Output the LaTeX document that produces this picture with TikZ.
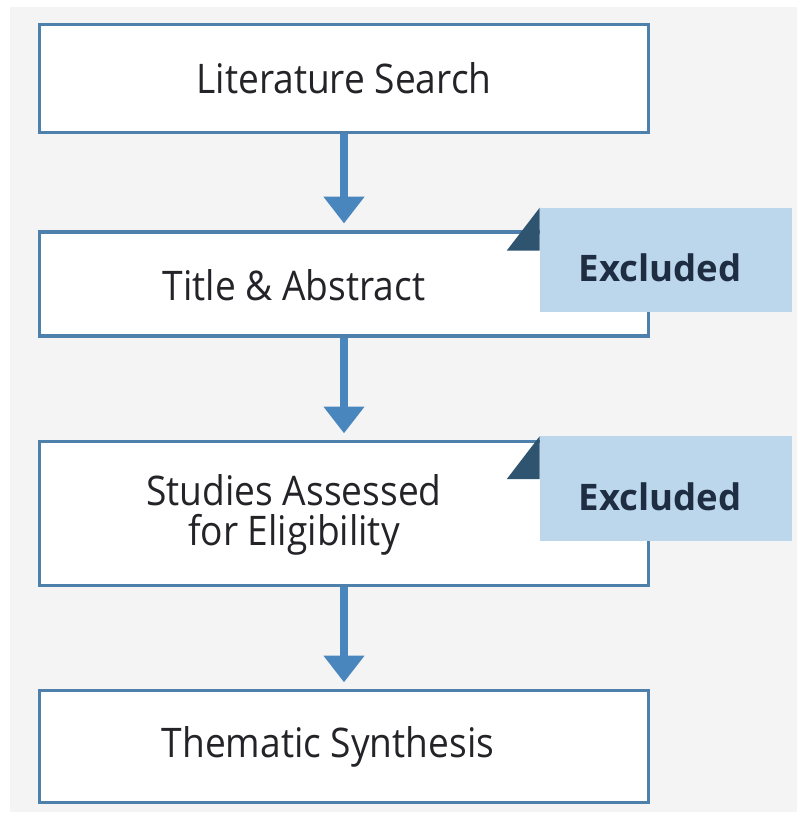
\documentclass[tikz,border=0pt]{standalone}
\usepackage{fontspec}
\setmainfont{Open Sans}[FakeStretch=0.91]
\newfontfamily\exfont{Open Sans}
\usetikzlibrary{arrows.meta,positioning,calc}
\definecolor{steel}{RGB}{78,128,172}
\definecolor{flowblue}{RGB}{74,134,190}
\definecolor{paleblue}{RGB}{188,214,235}
\definecolor{slate}{RGB}{46,84,112}
\definecolor{ink}{RGB}{35,35,40}
\definecolor{navyink}{RGB}{30,45,65}
\definecolor{paper}{RGB}{244,244,244}
\tikzset{
  >={Triangle[width=28pt,length=19pt]},
  stage/.style={draw=steel,fill=white,line width=2.2pt,minimum width=15.2cm,
    minimum height=#1,inner sep=0pt,text=ink,align=center,
    font=\fontsize{29}{28.5}\selectfont},
  stage/.default=2.65cm,
  stagetext/.style={text=ink,align=center,inner sep=0pt,
    font=\fontsize{29}{28.5}\selectfont},
  excl/.style={fill=paleblue,minimum width=6.3cm,minimum height=2.6cm,inner sep=0pt},
  excltext/.style={text=navyink,inner sep=0pt,font=\exfont\fontsize{26}{28}\selectfont\bfseries},
  flow/.style={->,line width=5pt,draw=flowblue,shorten >=5pt},
}
\begin{document}
\begin{tikzpicture}[x=0.025cm,y=-0.025cm]
  \useasboundingbox (0,0) rectangle (800,817);
  \fill[paper] (10,7) rectangle (797,812);

  % stages
  \node[stage=2.68cm] (search) at (344,78.5) {Literature Search};
  \node[stage=2.6cm] (title) at (344,284) {};
  \node[stage=3.58cm] (elig) at (344,513.5) {};
  \node[stage=2.78cm] (synth) at (344,746.5) {\hspace*{-0.8cm}Thematic Synthesis};
  \node[stagetext] (titletxt) at (294,285) {Title \& Abstract};
  \node[stagetext] (eligtxt) at (294,515) {Studies Assessed\\for Eligibility};

  % exclusion tabs
  \node[excl] (ex1) at (666,260) {};
  \node[excl] (ex2) at (666,488.5) {};
  \node[excltext] (ex1txt) at (660,268) {Excluded};
  \node[excltext] (ex2txt) at (660,497) {Excluded};
  \foreach \e in {ex1,ex2}
    \fill[slate] (\e.north west) -- ++(0,43) -- ++(-33,0) -- cycle;

  % arrows
  \draw[flow] (search) -- (title);
  \draw[flow] (title) -- (elig);
  \draw[flow] (elig) -- (synth);
\end{tikzpicture}
\end{document}
